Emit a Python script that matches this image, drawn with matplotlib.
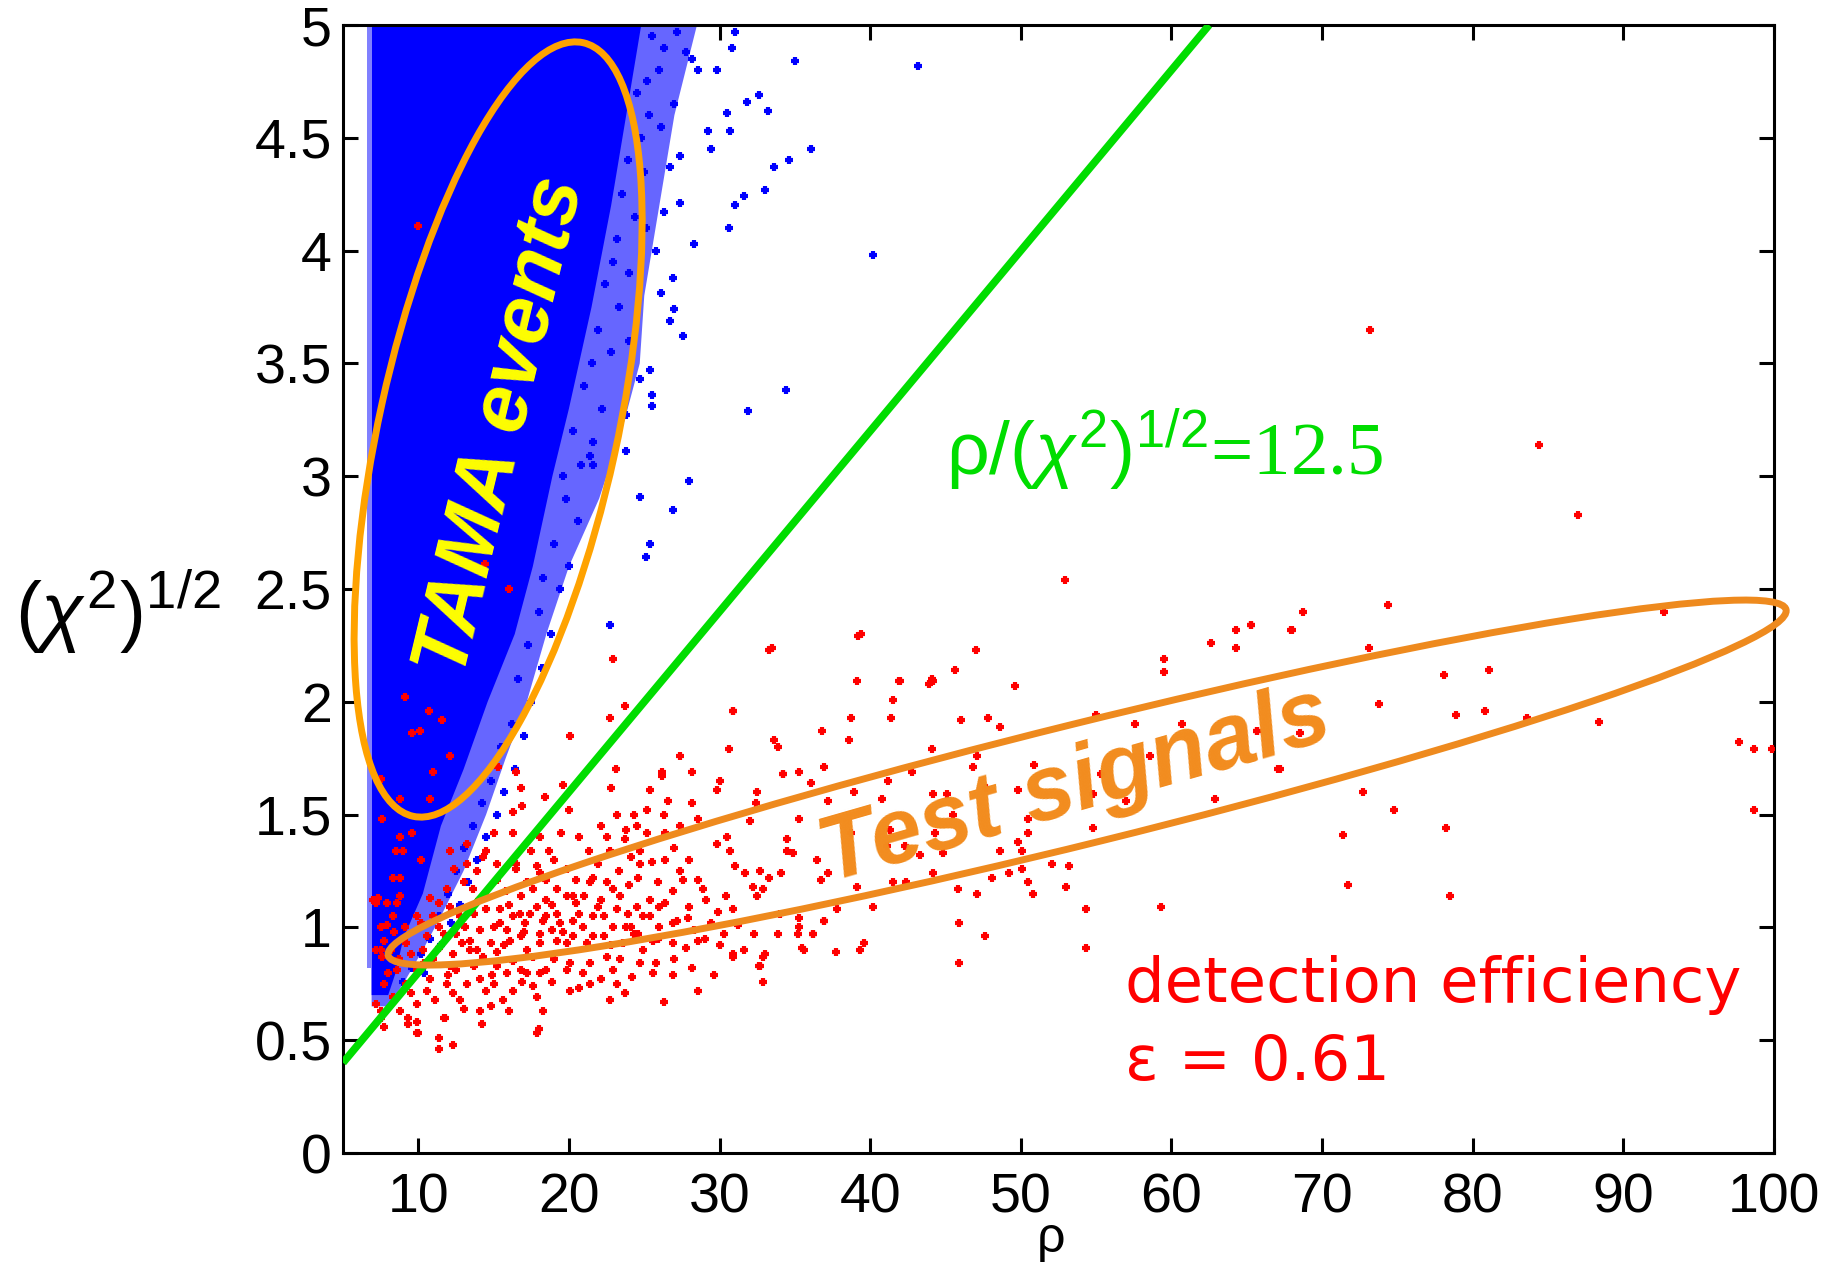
import numpy as np
import matplotlib
matplotlib.use("Agg")
import matplotlib.pyplot as plt
from matplotlib.patches import Ellipse, Polygon

plt.rcParams['font.family'] = 'Liberation Sans'
plt.rcParams['mathtext.fontset'] = 'custom'
plt.rcParams['mathtext.rm'] = 'Liberation Sans'
plt.rcParams['mathtext.it'] = 'Liberation Sans:italic'

# ---- data (rho, sqrt(chi^2)) ----
# dense TAMA event cloud, outline of the solid part
core_rho = [6.9, 24.8, 23.8, 22.8, 21.5, 20.0, 18.9, 17.6, 16.4, 14.6, 13.0, 11.5, 10.3, 9.0, 8.5, 8.0, 6.9]
core_chi = [5.0, 5.0, 4.6, 4.2, 3.75, 3.3, 3.0, 2.6, 2.3, 2.0, 1.7, 1.45, 1.15, 0.95, 0.8, 0.7, 0.7]
# outer edge of the thinning fringe
fringe_rho = [6.9, 28.5, 27.0, 26.0, 25.0, 24.7, 23.5, 22.0, 20.0, 18.5, 17.2, 15.8, 14.5, 13.0, 11.5, 10.3, 9.0, 8.0, 6.9]
fringe_chi = [5.0, 5.0, 4.6, 4.2, 3.8, 3.5, 3.2, 2.9, 2.6, 2.3, 2.0, 1.75, 1.5, 1.25, 1.05, 0.9, 0.75, 0.65, 0.65]

# single TAMA events in the fringe and beyond
tama_pts = [
    (25.5, 4.95), (26.3, 4.9), (27.2, 4.97), (27.8, 4.88), (26.0, 4.8), (25.2, 4.75), (28.2, 4.85),
    (24.5, 4.7), (25.3, 4.6), (26.1, 4.55), (24.8, 4.5), (27.0, 4.65), (23.9, 4.4), (25.0, 4.35),
    (23.5, 4.25), (24.4, 4.15), (23.2, 4.05), (25.1, 4.1), (22.9, 3.95), (24.0, 3.9),
    (22.4, 3.85), (23.3, 3.75), (21.9, 3.65), (22.8, 3.55), (24.0, 3.6), (21.5, 3.5),
    (21.0, 3.4), (22.2, 3.3), (20.3, 3.2), (21.6, 3.15), (20.8, 3.05), (19.6, 3.0),
    (19.8, 2.9), (20.6, 2.8), (19.0, 2.7), (20.0, 2.6), (18.3, 2.55), (19.4, 2.5),
    (18.0, 2.4), (18.8, 2.3), (17.3, 2.25), (18.2, 2.15), (16.6, 2.1), (17.5, 2.0),
    (16.2, 1.9), (17.0, 1.85), (15.5, 1.8), (16.4, 1.7), (14.8, 1.65), (15.7, 1.6), (14.2, 1.55), (15.2, 1.5),
    (13.6, 1.45), (14.5, 1.4), (13.0, 1.35), (13.9, 1.3), (12.5, 1.25), (13.3, 1.2), (12.0, 1.15),
    (12.8, 1.1), (11.4, 1.05), (12.2, 1.02), (10.8, 0.95), (11.5, 0.92), (10.2, 0.88), (9.6, 0.82),
    (10.4, 0.8), (9.0, 0.76),
    (35.0, 4.84), (43.2, 4.82), (32.6, 4.69), (31.8, 4.66), (33.2, 4.62), (30.5, 4.61), (36.1, 4.45),
    (34.6, 4.40), (33.6, 4.37), (33.0, 4.27), (31.6, 4.24), (31.0, 4.20), (30.6, 4.10), (28.3, 4.03),
    (40.2, 3.98), (27.6, 3.62), (27.0, 3.74), (26.7, 3.69), (34.4, 3.38), (31.9, 3.29), (25.4, 3.47),
    (24.7, 3.43), (25.5, 3.36), (25.5, 3.31), (23.8, 3.27), (23.8, 3.11), (28.0, 2.98), (24.7, 2.91),
    (26.9, 2.85), (25.4, 2.70), (25.1, 2.64), (22.7, 2.34), (21.4, 3.09), (21.6, 3.05),
    (30.7, 4.53), (29.2, 4.53), (29.4, 4.45), (27.4, 4.42), (29.8, 4.80), (28.6, 4.80), (30.8, 4.90),
    (31.0, 4.97), (27.4, 4.21), (26.3, 4.17), (26.7, 4.37), (25.8, 4.00), (26.1, 3.81), (26.9, 3.88),
]

# injected test signals
test_pts = [
    # inside the TAMA cloud
    (10.0, 4.11), (14.4, 2.61), (16.0, 2.50), (9.1, 2.02), (10.7, 1.96), (11.6, 1.92), (9.6, 1.86),
    (10.1, 1.87), (12.1, 1.76), (11.0, 1.69), (7.5, 1.66), (8.8, 1.57), (10.8, 1.57), (7.6, 1.48),
    (8.8, 1.40), (9.6, 1.42), (8.5, 1.34), (9.0, 1.34), (10.2, 1.30), (8.8, 1.22), (8.3, 1.22),
    (7.2, 1.11), (8.6, 1.11), (7.3, 1.13), (7.9, 1.01), (7.5, 0.90),
    # main cluster
    (22.9, 2.19), (33.3, 2.23), (23.7, 1.98), (22.7, 1.93), (20.1, 1.85), (30.9, 1.96), (30.6, 1.79),
    (33.6, 1.83), (33.9, 1.80), (27.4, 1.76), (26.2, 1.69), (26.2, 1.67), (28.2, 1.69), (30.0, 1.65),
    (29.8, 1.61), (34.2, 1.68), (23.1, 1.70), (22.8, 1.62), (25.4, 1.61), (26.6, 1.56), (28.2, 1.55),
    (32.5, 1.60), (32.4, 1.55), (19.6, 1.63), (18.4, 1.58), (16.9, 1.54), (15.3, 1.71), (16.5, 1.69),
    (16.8, 1.62), (20.0, 1.52), (16.3, 1.51), (23.2, 1.50), (24.3, 1.50), (25.2, 1.52), (26.3, 1.50),
    (28.6, 1.48), (32.0, 1.47), (22.1, 1.45), (23.8, 1.43), (24.5, 1.45), (25.2, 1.42), (26.4, 1.42),
    (27.4, 1.45), (30.5, 1.40), (29.8, 1.37), (15.0, 1.42), (16.3, 1.42), (19.5, 1.42), (17.5, 1.34),
    (18.7, 1.34), (21.3, 1.34), (22.7, 1.34), (23.7, 1.39), (27.0, 1.35), (30.7, 1.34), (34.5, 1.34),
    (14.3, 1.31), (19.0, 1.30), (24.1, 1.31), (24.7, 1.28), (25.5, 1.29), (26.4, 1.30), (28.0, 1.30),
    (31.0, 1.27), (31.7, 1.24), (32.7, 1.25), (33.3, 1.22), (13.2, 1.28), (13.9, 1.25), (12.4, 1.26),
    (18.1, 1.24), (16.5, 1.26), (15.2, 1.21), (20.5, 1.21), (21.6, 1.22), (22.5, 1.20), (24.6, 1.22),
    (27.4, 1.25), (27.6, 1.21), (28.6, 1.21), (32.2, 1.18), (32.5, 1.14), (32.9, 1.17), (11.9, 1.17),
    (13.0, 1.20), (14.5, 1.14), (16.8, 1.14), (17.6, 1.17), (18.5, 1.12), (19.9, 1.14), (21.0, 1.14),
    (22.1, 1.12), (23.4, 1.14), (24.5, 1.09), (25.4, 1.12), (26.4, 1.11), (28.0, 1.09), (29.1, 1.12),
    (30.4, 1.14), (30.9, 1.08), (34.0, 1.06), (10.8, 1.13), (12.1, 1.09), (13.7, 1.06), (15.4, 1.08),
    (16.3, 1.05), (17.4, 1.06), (18.3, 1.03), (19.2, 1.06), (20.3, 1.03), (21.6, 1.05), (22.9, 1.00),
    (23.8, 1.00), (24.9, 1.05), (26.0, 1.00), (27.2, 1.03), (28.3, 0.99), (29.4, 1.02), (30.3, 0.97),
    (32.3, 0.97), (33.9, 0.97), (9.9, 1.05), (11.4, 1.00), (12.5, 0.97), (14.1, 0.99), (15.9, 0.99),
    (16.8, 0.96), (18.1, 0.97), (19.2, 0.94), (20.3, 0.96), (21.2, 0.93), (22.3, 0.96), (23.6, 0.93),
    (24.3, 0.97), (25.6, 0.94), (26.9, 0.93), (27.8, 0.91), (28.6, 0.94), (30.9, 0.88), (31.6, 0.90),
    (33.0, 0.88), (9.2, 0.93), (10.3, 0.90), (11.4, 0.91), (12.3, 0.88), (13.4, 0.90), (14.3, 0.87),
    (15.2, 0.89), (16.3, 0.85), (17.6, 0.87), (19.0, 0.86), (20.1, 0.84), (21.4, 0.84), (22.5, 0.87),
    (23.4, 0.86), (24.7, 0.84), (25.8, 0.84), (32.6, 0.83), (7.5, 1.00), (7.2, 0.90), (7.7, 0.94),
    (8.3, 1.05), (7.9, 1.11), (8.8, 1.14), (7.0, 1.12), (7.6, 0.87), (8.6, 0.81), (9.9, 0.81),
    (10.8, 0.77), (11.9, 0.75), (12.5, 0.81), (13.2, 0.75), (14.1, 0.77), (15.0, 0.75), (15.9, 0.80),
    (16.3, 0.72), (17.2, 0.80), (17.6, 0.74), (18.1, 0.80), (17.9, 0.69), (18.3, 0.63), (18.0, 0.55),
    (20.1, 0.72), (20.7, 0.73), (21.4, 0.75), (22.1, 0.77), (23.2, 0.75), (23.7, 0.71), (22.7, 0.68),
    (25.6, 0.80), (26.3, 0.67), (26.9, 0.79), (28.6, 0.72), (29.6, 0.79), (32.9, 0.76), (12.8, 0.68),
    (14.1, 0.63), (14.8, 0.65), (15.6, 0.68), (16.0, 0.63), (14.2, 0.57), (11.7, 0.60), (9.9, 0.58),
    (9.9, 0.53), (9.3, 0.57), (8.8, 0.63), (7.7, 0.56), (7.2, 0.66), (7.7, 0.75), (11.4, 0.51),
    (11.4, 0.46), (12.3, 0.48), (7.5, 0.60), (7.5, 0.63), (10.0, 0.53), (9.3, 0.60), (11.8, 0.60),
    (17.9, 0.53), (32.7, 0.83), (32.9, 0.87), (30.9, 0.87), (35.6, 0.90), (35.3, 1.04), (36.2, 0.97),
    (36.9, 1.03),
    (16.75, 1.06), (17.1, 1.02), (18.5, 1.05), (18.85, 0.99), (18.1, 0.93), (20.5, 1.11), (20.7, 1.06),
    (20.3, 1.14), (13.4, 0.94), (14.8, 0.93), (13.9, 0.90), (24.1, 1.00), (24.6, 0.97), (12.8, 1.05),
    (11.4, 1.11), (14.5, 1.08), (15.4, 1.02), (16.1, 0.94), (17.2, 0.90), (19.4, 1.02), (19.9, 0.93),
    (21.6, 0.96), (22.3, 1.05), (23.2, 1.08), (25.4, 1.05), (26.0, 1.09), (26.9, 1.02), (17.2, 1.20),
    (18.5, 1.21), (19.2, 1.17), (21.4, 1.20), (22.9, 1.17), (10.6, 0.96), (11.0, 0.86), (12.1, 0.83),
    (13.7, 0.83), (15.2, 0.83), (16.8, 0.81), (18.5, 0.81), (19.9, 0.81), (9.2, 0.75), (10.6, 0.72),
    (12.3, 0.71), (14.5, 0.72), (9.9, 0.66), (8.3, 0.69), (16.5, 1.28), (15.2, 1.28), (12.1, 1.34),
    (13.2, 1.37), (14.5, 1.34), (18.1, 1.40), (20.7, 1.40), (22.5, 1.40), (24.7, 1.34),
    (10.2, 1.02), (11.0, 1.05), (11.7, 0.97), (12.9, 0.93), (13.1, 1.00), (14.0, 1.12), (15.0, 1.00),
    (15.7, 0.92), (16.0, 1.10), (17.0, 0.98), (17.9, 1.09), (18.9, 1.10), (19.6, 0.98), (20.9, 1.00),
    (21.9, 1.09), (22.8, 0.92), (23.9, 1.06), (24.9, 0.90), (25.9, 0.95), (26.9, 1.16), (27.9, 1.04),
    (29.0, 0.95), (29.9, 1.07), (30.0, 0.92), (31.2, 1.01), (13.6, 1.17), (15.8, 1.16), (17.9, 1.27),
    (19.9, 1.26), (21.9, 1.28), (23.3, 1.25), (25.9, 1.20), (28.9, 1.17), (14.9, 0.79), (16.9, 0.76),
    (18.9, 0.76), (20.9, 0.80), (22.9, 0.81), (24.2, 0.78), (12.0, 0.79), (10.4, 0.84), (9.5, 0.88),
    (8.7, 0.86), (8.0, 0.80), (8.2, 0.90), (8.4, 0.98), (9.1, 1.00), (9.5, 0.71), (11.1, 0.68),
    (13.0, 0.64), (24.0, 1.19), (27.0, 0.86), (28.2, 0.82),
    # spread to higher rho
    (39.2, 2.29), (47.0, 2.23), (39.1, 2.09), (42.0, 2.09), (44.2, 2.09), (43.9, 2.08), (45.6, 2.14),
    (49.6, 2.07), (41.5, 2.01), (38.7, 1.93), (41.4, 1.93), (46.0, 1.92), (47.8, 1.93), (36.8, 1.87),
    (38.6, 1.83), (44.1, 1.79), (47.1, 1.76), (46.8, 1.71), (55.0, 1.94), (57.6, 1.90), (60.7, 1.90),
    (59.5, 2.19), (59.5, 2.13), (62.6, 2.26), (64.3, 2.32), (64.3, 2.24), (65.3, 2.34), (68.0, 2.32),
    (65.7, 1.87), (58.6, 1.76), (67.1, 1.70), (62.9, 1.57), (54.8, 1.59), (57.0, 1.56), (55.3, 1.68),
    (49.8, 1.61), (47.7, 1.62), (50.5, 1.48), (50.5, 1.42), (49.8, 1.38), (50.1, 1.34), (54.8, 1.44),
    (48.6, 1.34), (52.1, 1.28), (53.2, 1.27), (50.1, 1.26), (49.2, 1.24), (48.1, 1.22), (50.5, 1.20),
    (53.0, 1.18), (50.8, 1.15), (47.1, 1.15), (45.8, 1.17), (44.2, 1.24), (42.4, 1.20), (41.5, 1.20),
    (39.1, 1.18), (36.7, 1.21), (37.2, 1.24), (34.1, 1.24), (40.2, 1.09), (37.8, 1.08), (36.9, 1.03),
    (35.3, 1.00), (35.2, 0.97), (36.2, 0.97), (35.5, 0.91), (37.7, 0.89), (39.6, 0.93), (39.3, 0.90),
    (45.9, 1.02), (47.6, 0.96), (45.9, 0.84), (54.3, 1.08), (54.3, 0.91), (59.3, 1.09), (34.5, 1.39),
    (34.9, 1.33), (36.5, 1.30), (35.3, 1.48), (37.2, 1.56), (38.9, 1.60), (40.8, 1.57), (41.2, 1.65),
    (45.1, 1.59), (44.2, 1.59), (36.1, 1.64), (36.9, 1.71), (35.3, 1.69), (42.8, 1.69), (34.2, 1.68),
    (38.7, 1.42), (41.3, 1.43), (44.3, 1.42), (44.8, 1.33), (43.3, 1.32), (42.3, 1.36), (41.1, 1.36),
    (45.5, 1.50),
    (73.2, 3.65), (84.4, 3.14), (87.0, 2.83), (52.9, 2.54), (74.4, 2.43), (68.7, 2.40), (67.96, 2.32),
    (65.3, 2.34), (92.7, 2.40), (73.1, 2.24), (78.1, 2.12), (81.1, 2.14), (73.8, 1.99), (78.9, 1.94),
    (80.8, 1.96), (83.6, 1.93), (88.4, 1.91), (65.7, 1.87), (68.5, 1.86), (67.2, 1.70), (97.7, 1.82),
    (98.7, 1.79), (99.9, 1.79), (72.7, 1.60), (74.8, 1.52), (71.4, 1.41), (78.2, 1.44), (98.7, 1.52),
    (71.7, 1.19), (78.5, 1.14), (33.5, 2.24), (39.4, 2.30), (41.9, 2.09), (44.1, 2.10), (48.6, 1.89),
    (50.9, 1.72), (30.9, 1.96),
]

# cut line rho / sqrt(chi^2) = 12.5
cut_rho = [5.0, 62.5]
cut_chi = [0.4, 5.0]

x_ticks = [10, 20, 30, 40, 50, 60, 70, 80, 90, 100]
y_ticks = [0, 0.5, 1, 1.5, 2, 2.5, 3, 3.5, 4, 4.5, 5]
y_labels = ['0', '0.5', '1', '1.5', '2', '2.5', '3', '3.5', '4', '4.5', '5']

W, H = 1842, 1266
fig = plt.figure(figsize=(W / 100, H / 100), dpi=100)
ax = fig.add_axes([343 / W, (H - 1153) / H, (1774 - 343) / W, (1153 - 25) / H])
ax.set_xlim(5, 100)
ax.set_ylim(0, 5)

blue = '#0000ff'
ax.add_patch(Polygon(np.column_stack([fringe_rho, fringe_chi]), closed=True,
                     facecolor=blue, edgecolor='none', alpha=0.6, zorder=1))
ax.add_patch(Polygon(np.column_stack([core_rho, core_chi]), closed=True,
                     facecolor=blue, edgecolor='none', zorder=2))
ax.fill_betweenx([0.82, 5.0], 6.6, 6.9, color='#8080ff', lw=0, zorder=2)

tama = np.array(tama_pts)
ax.plot(tama[:, 0], tama[:, 1], ls='none', marker='+', ms=6, mew=3, color=blue, zorder=3)
test = np.array(test_pts)
ax.plot(test[:, 0], test[:, 1], ls='none', marker='+', ms=6, mew=3, color='#ff0000', zorder=4)

ax.plot(cut_rho, cut_chi, color='#00dd00', lw=5.5, solid_capstyle='butt', zorder=5)

# ellipses drawn in pixel units around data centres
def ring(center, a_px, b_px, ang, color):
    cx, cy = ax.transData.transform(center)
    e = Ellipse((cx / 100, cy / 100), 2 * a_px / 100, 2 * b_px / 100, angle=ang,
                transform=fig.dpi_scale_trans, fill=False, edgecolor=color, lw=5, zorder=6)
    fig.add_artist(e)

ring((15.3, 3.207), 396, 119, 77.6, '#ffa200')
ring((54.4, 1.642), 720, 60, 13.9, '#ee8a1e')

ax.text(15.6, 3.22, 'TAMA events', color='#ffff00', fontsize=59, fontweight='bold',
        family=['Liberation Sans Narrow', 'Liberation Sans'],
        fontstyle='italic', rotation=76.5, rotation_mode='anchor', ha='center', va='center', zorder=7)
ax.text(53.6, 1.62, 'Test signals', color='#f28c1e', fontsize=66, fontweight='bold',
        fontstyle='italic', rotation=16, rotation_mode='anchor', ha='center', va='center', zorder=7)
ax.text(45.0, 3.006, r'$\mathrm{\rho}/(\chi^2)^{1/2}$=12.5', color='#00dd00', fontsize=54,
        family='Liberation Serif', ha='left', va='baseline', zorder=7)
ax.text(56.9, 0.669, 'detection efficiency', color='#ff0000', fontsize=45,
        family='DejaVu Sans', ha='left', va='baseline', zorder=7)
ax.text(56.9, 0.324, 'ε = 0.61', color='#ff0000', fontsize=45,
        family='DejaVu Sans', ha='left', va='baseline', zorder=7)

ax.set_xticks(x_ticks)
ax.set_xticklabels([str(t) for t in x_ticks])
ax.set_yticks(y_ticks)
ax.set_yticklabels(y_labels)
ax.tick_params(direction='in', length=11, width=2.2, labelsize=40, top=True, right=True,
               colors='black')
ax.tick_params(axis='x', pad=14)
ax.tick_params(axis='y', pad=8)
for s in ax.spines.values():
    s.set_linewidth(2.2)

fig.text(15 / W, (H - 612) / H, r'$(\chi^2)^{1/2}$', fontsize=56, ha='left', va='center')
fig.text(1051 / W, (H - 1239) / H, 'ρ', fontsize=36, ha='center', va='center')

fig.savefig('out.png', dpi=100)
